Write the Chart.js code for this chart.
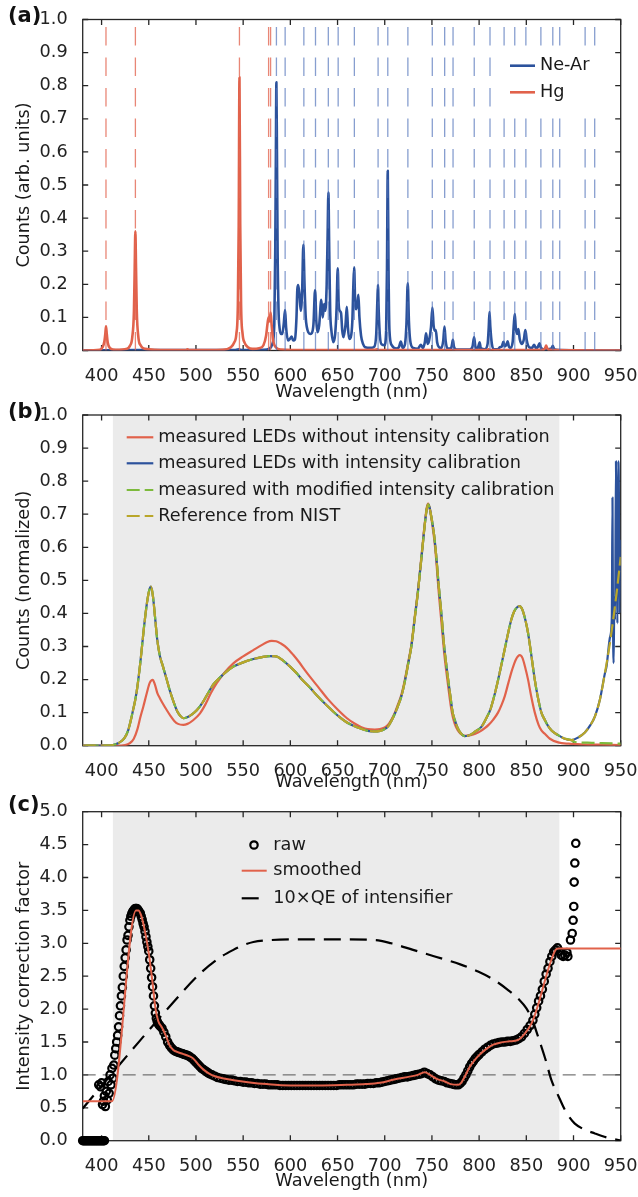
<!DOCTYPE html>
<html>
<head>
<meta charset="utf-8">
<title>Spectrometer calibration</title>
<script src="https://cdn.jsdelivr.net/npm/chart.js@4.4.1/dist/chart.umd.min.js"></script>
<style>
  html, body { margin: 0; padding: 0; background: #fff; }
  #figure { position: relative; width: 638px; height: 1197px; }
  #figure canvas { position: absolute; left: 0; top: 0; }
</style>
</head>
<body>
<div id="figure">
  <canvas id="panelA" width="638" height="1197"></canvas>
  <canvas id="panelB" width="638" height="1197"></canvas>
  <canvas id="panelC" width="638" height="1197"></canvas>
</div>
<script>
// ---- axis ticks ----
const wavelengthTicks = [400, 450, 500, 550, 600, 650, 700, 750, 800, 850, 900, 950];
const countTicks = [0, 0.1, 0.2, 0.3, 0.4, 0.5, 0.6, 0.7, 0.8, 0.9, 1.0];
const factorTicks = [0, 0.5, 1, 1.5, 2, 2.5, 3, 3.5, 4, 4.5, 5];

// ---- (a) lamp lines and measured lamp spectra ----
const hgLines = [404.66, 435.83, 546.07, 576.96, 579.07];
const neArLines = [585.25, 594.48, 614.31, 626.65, 640.22, 650.65, 667.83, 692.95, 703.24, 724.52,
  750.39, 763.51, 772.38, 794.82, 811.53, 826.45, 837.76, 849.54, 865.44, 878.06, 885.39, 912.30, 922.45];

const hgSpectrum = [
  [380,0],[398,0.002],[401,0.01],[403,0.028],[404,0.052],[404.7,0.073],[405.5,0.05],[406.5,0.024],[409,0.007],
  [415,0.002],[427,0.005],[430,0.014],[432.5,0.04],[434.3,0.12],[435.1,0.25],[435.8,0.36],[436.5,0.25],[437.3,0.12],
  [439,0.04],[441.5,0.015],[446,0.005],[470,0.001],[489,0.001],[491,0.004],[493,0.001],[528,0.002],[537,0.01],
  [540.5,0.024],[542.8,0.05],[544.4,0.14],[545.3,0.38],[546.1,0.825],[546.9,0.38],[547.8,0.14],[549.4,0.05],
  [551.5,0.024],[555,0.01],[560,0.005],[567,0.007],[571.5,0.016],[574.3,0.045],[576,0.085],[577,0.1],[578,0.088],
  [579.1,0.115],[580.1,0.08],[581.7,0.032],[584.5,0.01],[590,0.003],[620,0.001],[690,0.002],[692,0.004],[694,0.001],
  [808,0.001],[810,0.004],[812,0.001],[868,0.002],[870,0.008],[871,0.015],[872,0.008],[874,0.002],[950,0]
];

const neArSpectrum = [
  [380,0],[440,0.001],[541,0.001],[545,0.004],[549,0.001],[572,0.002],[578,0.006],[581,0.02],[583,0.08],[584,0.3],
  [584.7,0.6],[585.2,0.81],[585.8,0.6],[586.5,0.3],[587.5,0.12],[588.5,0.07],[590,0.05],[591.5,0.05],[593,0.08],
  [594.4,0.122],[595.5,0.07],[597.5,0.03],[599.5,0.035],[601.4,0.042],[603,0.03],[604.8,0.033],[606.5,0.1],
  [607.4,0.185],[608.3,0.198],[609.6,0.17],[611,0.12],[612.5,0.18],[613.8,0.319],[615,0.2],[616.3,0.1],[617.5,0.07],
  [619,0.055],[621,0.05],[622.6,0.052],[624.5,0.08],[626.2,0.183],[627.5,0.09],[628.7,0.055],[630.5,0.075],
  [632.8,0.153],[634.3,0.1],[635.8,0.14],[637,0.12],[638.5,0.2],[639.5,0.35],[640.3,0.477],[641.2,0.3],[642.2,0.12],
  [643.5,0.06],[645.6,0.025],[647.5,0.05],[649,0.13],[650.2,0.248],[651.2,0.14],[652.3,0.12],[653.7,0.113],[655,0.06],
  [656.3,0.04],[658.5,0.08],[659.8,0.132],[661,0.07],[662.3,0.035],[664,0.04],[665.7,0.09],[666.8,0.2],[667.6,0.251],
  [668.6,0.15],[669.8,0.125],[671,0.14],[672.1,0.168],[673.2,0.1],[674.9,0.045],[677,0.02],[679.2,0.01],[685,0.008],
  [689,0.012],[691,0.05],[692.2,0.15],[692.8,0.198],[693.6,0.12],[695,0.04],[697,0.018],[699.7,0.016],[701.5,0.06],
  [702.4,0.25],[703.2,0.543],[704,0.25],[705,0.06],[707.4,0.016],[712,0.006],[715,0.01],[717,0.027],[719,0.008],
  [721.5,0.02],[723,0.08],[724.4,0.203],[725.6,0.09],[727,0.03],[730,0.008],[735,0.005],[738.2,0.017],[740.5,0.008],
  [742.5,0.025],[743.8,0.052],[745.5,0.02],[747,0.03],[749,0.07],[750.5,0.13],[751.8,0.075],[753,0.06],[754.1,0.062],
  [755.5,0.025],[757.5,0.01],[760,0.008],[762,0.03],[763.3,0.072],[764.5,0.03],[766.5,0.006],[770,0.006],[771.3,0.018],
  [772.2,0.032],[773.3,0.012],[776,0.003],[790,0.003],[793,0.012],[794.7,0.04],[796,0.012],[798,0.006],[799.5,0.015],
  [800.5,0.025],[801.7,0.008],[806,0.004],[809,0.02],[810.2,0.07],[811,0.116],[811.9,0.07],[813.5,0.02],[816,0.004],
  [820,0.004],[822,0.01],[824,0.012],[825.7,0.026],[827.3,0.012],[829,0.018],[830.2,0.028],[831.5,0.012],[833,0.008],
  [835.5,0.025],[836.8,0.08],[837.8,0.11],[838.8,0.07],[840.2,0.05],[841.6,0.065],[843,0.035],[845.5,0.02],[847.5,0.035],
  [849,0.062],[850.5,0.03],[853,0.01],[856,0.008],[858.3,0.017],[860.5,0.006],[862.5,0.012],[864,0.022],[865.5,0.008],
  [870,0.003],[876.5,0.006],[878.1,0.014],[879.5,0.004],[885,0.001],[950,0]
];

// ---- (b) LED spectra ----
const ledUncalibrated = [
  [380,0],[415,0],[425,0.002],[430,0.008],[434,0.02],[438,0.05],[441,0.085],[444.2,0.118],[448,0.16],[451,0.19],
  [454.2,0.199],[456.5,0.185],[459,0.16],[461.9,0.143],[465,0.127],[469,0.108],[473,0.09],[477,0.075],[481,0.066],
  [486.6,0.063],[491,0.066],[497,0.077],[504.3,0.098],[510,0.125],[516,0.16],[522,0.189],[530,0.22],[539.6,0.249],
  [550,0.27],[560.8,0.289],[570,0.305],[575,0.313],[580.3,0.317],[585,0.316],[590,0.309],[596.2,0.296],[603,0.275],
  [610,0.25],[615,0.23],[620.9,0.208],[629.4,0.178],[640,0.14],[650.6,0.108],[660,0.083],[668,0.067],[675.3,0.056],
  [682,0.05],[689.5,0.049],[695,0.05],[700,0.055],[704,0.065],[707,0.078],[710,0.095],[714,0.125],[717.7,0.155],
  [721,0.195],[725,0.255],[728.2,0.305],[732,0.395],[735,0.465],[737.2,0.525],[740,0.605],[742.5,0.675],[744.5,0.72],
  [746,0.732],[747.5,0.72],[749.5,0.685],[751.5,0.645],[753,0.61],[755,0.545],[757,0.47],[760,0.375],[763,0.28],
  [765,0.23],[767.2,0.18],[770,0.12],[772,0.088],[774.2,0.066],[777,0.048],[780,0.037],[784.8,0.03],[790,0.031],
  [796,0.036],[802,0.045],[806,0.053],[810,0.063],[815,0.079],[820,0.1],[824,0.125],[827.2,0.15],[831,0.19],
  [835,0.23],[839,0.261],[843.1,0.274],[846,0.265],[848.5,0.24],[851.9,0.199],[855,0.152],[859,0.1],[863,0.063],
  [866,0.046],[869.6,0.036],[875,0.021],[883.7,0.01],[895,0.006],[910,0.004],[930,0.003],[950,0.002]
];

const nistReference = [
  [380,0],[405,0],[412,0.002],[418,0.008],[424,0.022],[428,0.045],[432,0.09],[437,0.16],[441,0.25],[445,0.36],
  [448,0.43],[450.5,0.47],[452.4,0.481],[454.5,0.45],[456.6,0.39],[459,0.32],[461.9,0.27],[465,0.24],[469,0.2],
  [472.5,0.165],[476,0.135],[480,0.105],[483.5,0.09],[486.6,0.083],[490,0.085],[495,0.093],[500.8,0.107],[508,0.135],
  [513,0.16],[518.4,0.185],[525,0.205],[532,0.223],[539.6,0.239],[550,0.252],[560.8,0.262],[570,0.268],[578,0.271],
  [585,0.27],[592,0.258],[599.7,0.239],[607,0.218],[613,0.198],[620.9,0.175],[629.4,0.148],[640,0.118],[650.6,0.09],
  [660,0.07],[668,0.059],[675.3,0.051],[682,0.045],[689.5,0.043],[695,0.045],[700,0.05],[704,0.06],[707,0.075],
  [710,0.092],[714,0.12],[717.7,0.15],[721,0.19],[725,0.25],[728.2,0.3],[732,0.39],[735,0.46],[737.2,0.52],[740,0.6],
  [742.5,0.67],[744.5,0.715],[746,0.73],[747.5,0.72],[749.5,0.69],[751.5,0.655],[753,0.62],[755,0.56],[757,0.49],
  [760,0.4],[763,0.3],[765,0.25],[767.2,0.2],[770,0.14],[772,0.1],[774.2,0.078],[777,0.055],[780,0.04],[784.8,0.029],
  [788,0.03],[792,0.035],[796,0.043],[802.4,0.057],[808,0.085],[812,0.11],[816,0.15],[820.1,0.199],[824,0.25],
  [827,0.29],[830.7,0.34],[834,0.38],[837,0.405],[840,0.418],[843,0.422],[846,0.41],[849,0.38],[851.9,0.34],
  [855,0.28],[859,0.199],[862,0.15],[866,0.1],[869.6,0.078],[873,0.06],[877,0.045],[883.7,0.032],[890,0.022],
  [897.8,0.017],[905,0.025],[912,0.04],[918,0.063],[922.6,0.088],[928,0.14],[933.2,0.218],[938,0.3],[942,0.38],
  [946,0.47],[950,0.571]
];
// calibrated curve past 935 nm, where the sensitivity runs out
const calibratedTail = [
  [935,0.24],[938.8,0.33],[940.6,0.39],[941.3,0.75],[941.8,0.4],[942.5,0.25],[943.3,0.45],[944,0.38],[945,0.86],
  [945.8,0.55],[946.5,0.37],[947.3,0.86],[948,0.8],[948.7,0.4],[949.4,0.62],[950,0.6]
];
// modified calibration is cut to zero above the window
const modifiedTail = [[900,0.012],[915,0.009],[930,0.008],[950,0.006]];

const calibratedWindow = [412, 885];

// ---- (c) correction factor ----
const rawFactor = [
  [380,0],[381,0],[382,0],[383,0],[384,0],[385,0],[386,0],[387,0],[388,0],[389,0],[390,0],[391,0],[392,0],[393,0],
  [394,0],[395,0],[396,0],[397,0],[398,0],[399,0],[400,0],[401,0],[402,0],[403,0],
  [397,0.85],[399,0.82],[400,0.88],[401,0.55],[402,0.6],[403,0.68],[404,0.52],[405,0.75],[406,0.62],[407,0.9],
  [408,0.72],[409,1.0],[410,0.85],[411,1.1],[412,0.95],[413,1.15],[414,1.3],[415,1.4],[416,1.5],[417,1.6],[418,1.73],
  [419,1.9],[420,2.05],[421,2.2],[422,2.33],[423,2.5],[424,2.65],[425,2.78],[426,2.9],[427,3.05],[428,3.12],[429,3.25],
  [430,3.35],[431,3.41],[432,3.45],[433,3.48],[434,3.5],[435,3.52],[436,3.53],[437,3.53],[438,3.52],[439,3.5],
  [440,3.47],[441,3.46],[442,3.41],[443,3.36],[444,3.3],[445,3.25],[446,3.18],[447,3.1],[448,3.02],[449,2.95],
  [450,2.88],[451,2.75],[452,2.62],[453,2.48],[454,2.34],[455,2.2],[456,2.05],[457,1.94],[458,1.86],[459,1.81],
  [460,1.78],[461,1.76],[462,1.74],[464,1.71],[466,1.65],[468,1.58],[470,1.5],[472,1.45],[474,1.41],[476,1.38],
  [478,1.36],[480,1.35],[482,1.34],[484,1.33],[486,1.32],[488,1.31],[490,1.3],[492,1.29],[494,1.27],[496,1.25],
  [498,1.22],[500,1.19],[502,1.16],[504,1.13],[506,1.1],[508,1.08],[510,1.06],[512,1.04],[514,1.02],[517,1.0],
  [520,0.98],[523,0.96],[526,0.95],[529,0.94],[532,0.93],[535,0.92],[538,0.92],[541,0.91],[544,0.9],[547,0.9],
  [550,0.89],[553,0.89],[556,0.88],[559,0.88],[562,0.87],[565,0.87],[568,0.86],[571,0.86],[574,0.86],[577,0.85],
  [580,0.85],[583,0.85],[586,0.85],[589,0.84],[592,0.84],[595,0.84],[598,0.84],[601,0.84],[604,0.84],[607,0.84],
  [610,0.84],[613,0.84],[616,0.84],[619,0.84],[622,0.84],[625,0.84],[628,0.84],[631,0.84],[634,0.84],[637,0.84],
  [640,0.84],[643,0.84],[646,0.84],[649,0.84],[652,0.85],[655,0.85],[658,0.85],[661,0.85],[664,0.85],[667,0.85],
  [670,0.86],[673,0.86],[676,0.86],[679,0.86],[682,0.87],[685,0.87],[688,0.87],[691,0.88],[694,0.88],[697,0.89],
  [700,0.9],[703,0.91],[706,0.92],[709,0.93],[712,0.94],[715,0.95],[718,0.96],[721,0.97],[724,0.97],[727,0.98],
  [730,0.99],[733,1.0],[736,1.01],[739,1.02],[742,1.04],[745,1.02],[748,1.0],[751,0.97],[754,0.94],[757,0.92],
  [760,0.91],[763,0.9],[766,0.88],[769,0.87],[772,0.86],[775,0.85],[778,0.85],[780,0.87],[782,0.9],[784,0.95],
  [786,1.0],[788,1.06],[790,1.12],[792,1.17],[794,1.21],[796,1.25],[798,1.28],[800,1.31],[803,1.35],[806,1.39],
  [809,1.42],[812,1.45],[815,1.47],[818,1.48],[821,1.49],[824,1.5],[827,1.5],[830,1.51],[833,1.51],[836,1.52],
  [839,1.53],[842,1.55],[845,1.58],[848,1.63],[851,1.69],[854,1.75],[857,1.83],[859,1.92],[861,2.02],[863,2.12],
  [865,2.2],[867,2.3],[869,2.42],[871,2.53],[873,2.62],[875,2.72],[877,2.8],[879,2.87],[881,2.9],[883,2.93],
  [885,2.88],[887,2.82],[889,2.8],[891,2.82],[893,2.86],[894,2.8],[896.8,3.05],[898.6,3.15],[899.6,3.35],
  [900.3,3.56],[900.7,3.93],[901.4,4.22],[902.4,4.52]
];
const smoothedFactor = [
  [380,0.6],[411,0.6],[436.5,3.5],[439,3.5],[442,3.42],[446,3.18],[450,2.85],[454,2.4],[457,2.02],[460,1.82],
  [464,1.72],[468,1.6],[472,1.45],[476,1.38],[480,1.35],[486,1.32],[492,1.29],[497,1.25],[503,1.15],[508,1.08],
  [514,1.02],[520,0.98],[528,0.95],[540,0.92],[555,0.89],[575,0.86],[600,0.84],[630,0.84],[660,0.85],[680,0.86],
  [695,0.88],[710,0.93],[725,0.97],[735,1.0],[742.4,1.04],[748,1.0],[755,0.94],[763.6,0.9],[770,0.86],[777.7,0.85],
  [781,0.88],[785,0.98],[790,1.12],[795,1.22],[800,1.3],[808,1.4],[815,1.46],[822,1.49],[832,1.51],[841,1.53],
  [848,1.62],[855.4,1.78],[860,1.95],[866,2.24],[871,2.5],[876.6,2.75],[881,2.9],[884,2.92],[950,2.92]
];
const intensifierQE10 = [
  [380,0.49],[414,1.07],[440,1.51],[469,1.99],[504.3,2.54],[525,2.78],[539.6,2.9],[550,2.97],[560.8,3.02],[580,3.05],
  [610,3.06],[650,3.06],[690,3.05],[707,3.0],[730,2.9],[753,2.8],[780,2.68],[798.9,2.57],[815,2.45],[830.7,2.29],
  [842,2.15],[850.1,2.01],[856,1.85],[862.5,1.58],[870,1.25],[876.6,0.92],[884,0.68],[890.8,0.47],[896,0.35],
  [901.4,0.26],[910,0.18],[922.6,0.11],[935,0.05],[947.6,0.01],[950,0.005]
];
const unityLine = [[380,1],[950,1]];

// ---- styling ----
const FONT = 17.7;
const FAMILY = "'DejaVu Sans', sans-serif";
const HALF_LINE = FONT * 1.2 / 2;
const RED = '#e1624b', BLUE = '#2c529c', GREEN = '#7dba3c', OLIVE = '#b9a62a';

Chart.defaults.font.family = FAMILY;
Chart.defaults.font.size = FONT;
Chart.defaults.color = '#222';

// shaded window, box frame and inward ticks on all four sides
const framePlugin = {
  id: 'frame',
  beforeDatasetsDraw(chart, args, opts) {
    const {ctx, chartArea: a, scales: {x, y}} = chart;
    ctx.save();
    if (opts.shade) {
      const x0 = x.getPixelForValue(opts.shade[0]);
      const x1 = x.getPixelForValue(opts.shade[1]);
      ctx.fillStyle = '#ebebeb';
      ctx.fillRect(x0, a.top, x1 - x0, a.bottom - a.top);
    }
    ctx.strokeStyle = '#262626';
    ctx.lineWidth = 1.3;
    ctx.strokeRect(a.left, a.top, a.right - a.left, a.bottom - a.top);
    const len = 5.5;
    ctx.beginPath();
    x.ticks.forEach(t => {
      const px = x.getPixelForValue(t.value);
      ctx.moveTo(px, a.bottom); ctx.lineTo(px, a.bottom - len);
      ctx.moveTo(px, a.top); ctx.lineTo(px, a.top + len);
    });
    y.ticks.forEach(t => {
      const py = y.getPixelForValue(t.value);
      ctx.moveTo(a.left, py); ctx.lineTo(a.left + len, py);
      ctx.moveTo(a.right, py); ctx.lineTo(a.right - len, py);
    });
    ctx.stroke();
    ctx.restore();
  }
};

// hand-placed legend, reading label and style from the datasets
const keyPlugin = {
  id: 'key',
  afterDatasetsDraw(chart, args, opts) {
    const ctx = chart.ctx;
    ctx.save();
    if (opts.box) {
      ctx.fillStyle = '#fff';
      ctx.fillRect(opts.box[0], opts.box[1], opts.box[2], opts.box[3]);
    }
    ctx.font = FONT + 'px ' + FAMILY;
    ctx.textBaseline = 'middle';
    opts.entries.forEach((idx, i) => {
      const ds = chart.data.datasets[idx];
      const y = opts.rows[i];
      if (ds.showLine === false) {
        ctx.beginPath();
        ctx.arc(opts.markerX, y, ds.pointRadius, 0, Math.PI * 2);
        ctx.lineWidth = ds.pointBorderWidth;
        ctx.strokeStyle = ds.pointBorderColor;
        ctx.stroke();
      } else {
        ctx.beginPath();
        ctx.setLineDash(ds.borderDash || []);
        ctx.strokeStyle = ds.borderColor;
        ctx.lineWidth = ds.borderWidth;
        ctx.moveTo(opts.sample[0], y);
        ctx.lineTo(opts.sample[1], y);
        ctx.stroke();
        ctx.setLineDash([]);
      }
      ctx.fillStyle = '#1a1a1a';
      ctx.fillText(ds.label, opts.textX, y);
    });
    ctx.restore();
  }
};

// panel letter in the top-left corner
const tagPlugin = {
  id: 'tag',
  afterDraw(chart, args, opts) {
    const ctx = chart.ctx;
    ctx.save();
    ctx.font = 'bold 21px ' + FAMILY;
    ctx.fillStyle = '#111';
    ctx.textBaseline = 'middle';
    ctx.fillText(opts.text, 8, opts.y);
    ctx.restore();
  }
};

function panelOptions(p) {
  const xAxisHeight = p.titleY + HALF_LINE - p.bottom;
  return {
    responsive: false,
    animation: false,
    events: [],
    layout: {
      autoPadding: false,
      padding: { top: p.top, left: 0, right: 638 - 620.7, bottom: 1197 - p.bottom - xAxisHeight }
    },
    elements: { point: { radius: 0 }, line: { borderJoinStyle: 'round' } },
    scales: {
      x: {
        type: 'linear', min: 380, max: 950,
        afterBuildTicks: s => { s.ticks = wavelengthTicks.map(v => ({ value: v })); },
        // fixed axis band; the end labels may hang into the page margin
        afterFit: s => { s.height = xAxisHeight; s.paddingLeft = 0; s.paddingRight = 0; },
        grid: { display: false }, border: { display: false },
        ticks: { padding: 7.2, maxRotation: 0, autoSkip: false, color: '#222' },
        title: { display: true, text: 'Wavelength (nm)', padding: 0, color: '#1a1a1a' }
      },
      y: {
        type: 'linear', min: p.yTicks[0], max: p.yTicks[p.yTicks.length - 1],
        afterBuildTicks: s => { s.ticks = p.yTicks.map(v => ({ value: v })); },
        afterFit: s => { s.width = 82.7; s.paddingTop = 0; s.paddingBottom = 0; },
        grid: { display: false }, border: { display: false },
        ticks: { padding: 7, color: '#222', callback: v => v.toFixed(1) },
        title: { display: true, text: p.yTitle, padding: { top: 14, bottom: 0 }, color: '#1a1a1a' }
      }
    },
    plugins: Object.assign({ legend: { display: false }, tooltip: { enabled: false } }, p.plugins)
  };
}

const markerLine = (nm, color) => ({
  data: [[nm, 0], [nm, 1]], borderColor: color, borderWidth: 1.3,
  borderDash: [18.5, 12], pointRadius: 0, order: 0
});

// (a) calibration lamps
new Chart(document.getElementById('panelA'), {
  type: 'line',
  data: {
    datasets: [
      { label: 'Ne-Ar', data: neArSpectrum, borderColor: BLUE, borderWidth: 2.6, cubicInterpolationMode: 'monotone', order: 2 },
      { label: 'Hg', data: hgSpectrum, borderColor: RED, borderWidth: 2.6, cubicInterpolationMode: 'monotone', order: 1 },
      ...hgLines.map(nm => markerLine(nm, 'rgba(226,104,84,0.8)')),
      ...neArLines.map(nm => markerLine(nm, 'rgba(78,112,184,0.68)'))
    ]
  },
  options: panelOptions({
    top: 19.5, bottom: 350.5, titleY: 392.5, yTicks: countTicks, yTitle: 'Counts (arb. units)',
    plugins: {
      frame: {},
      key: { entries: [0, 1], box: [499, 47, 111, 61], sample: [510, 535], textX: 540, rows: [65.7, 92.3] },
      tag: { text: '(a)', y: 17 }
    }
  }),
  plugins: [framePlugin, keyPlugin, tagPlugin]
});

// (b) LED check against the NIST reference
new Chart(document.getElementById('panelB'), {
  type: 'line',
  data: {
    datasets: [
      { label: 'measured LEDs without intensity calibration', data: ledUncalibrated, borderColor: RED, borderWidth: 2.2,
        cubicInterpolationMode: 'monotone', order: 3 },
      { label: 'measured LEDs with intensity calibration',
        data: nistReference.filter(p => p[0] < 935).concat(calibratedTail), borderColor: BLUE, borderWidth: 2.2,
        cubicInterpolationMode: 'monotone', order: 2 },
      { label: 'measured with modified intensity calibration',
        data: nistReference.filter(p => p[0] < 898).concat(modifiedTail), borderColor: GREEN, borderWidth: 2.2,
        borderDash: [13, 5], borderDashOffset: 15, cubicInterpolationMode: 'monotone', order: 1 },
      { label: 'Reference from NIST', data: nistReference, borderColor: OLIVE, borderWidth: 2.2,
        borderDash: [13, 5], cubicInterpolationMode: 'monotone', order: 0 }
    ]
  },
  options: panelOptions({
    top: 415, bottom: 745.7, titleY: 782.5, yTicks: countTicks, yTitle: 'Counts (normalized)',
    plugins: {
      frame: { shade: calibratedWindow },
      key: { entries: [0, 1, 2, 3], sample: [126.7, 153.3], textX: 158.3, rows: [437.3, 463.3, 490, 516] },
      tag: { text: '(b)', y: 412.5 }
    }
  }),
  plugins: [framePlugin, keyPlugin, tagPlugin]
});

// (c) intensity correction factor
new Chart(document.getElementById('panelC'), {
  type: 'line',
  data: {
    datasets: [
      { label: 'raw', data: rawFactor, showLine: false, pointRadius: 3.7, pointBorderWidth: 2.2,
        pointBorderColor: '#000', pointBackgroundColor: 'rgba(0,0,0,0)', clip: false, order: 2 },
      { label: 'smoothed', data: smoothedFactor, borderColor: RED, borderWidth: 2,
        cubicInterpolationMode: 'monotone', order: 0 },
      { label: '10×QE of intensifier', data: intensifierQE10, borderColor: '#000', borderWidth: 2.2,
        borderDash: [17, 9], cubicInterpolationMode: 'monotone', order: 1 },
      { label: '', data: unityLine, borderColor: '#555', borderWidth: 1, borderDash: [13, 7], order: 3 }
    ]
  },
  options: panelOptions({
    top: 811.7, bottom: 1140.7, titleY: 1181.7, yTicks: factorTicks, yTitle: 'Intensity correction factor',
    plugins: {
      frame: { shade: calibratedWindow },
      key: { entries: [0, 1, 2], markerX: 254, sample: [241.7, 266.7], textX: 273.3, rows: [845, 870.7, 898.3] },
      tag: { text: '(c)', y: 806 }
    }
  }),
  plugins: [framePlugin, keyPlugin, tagPlugin]
});
</script>
</body>
</html>
